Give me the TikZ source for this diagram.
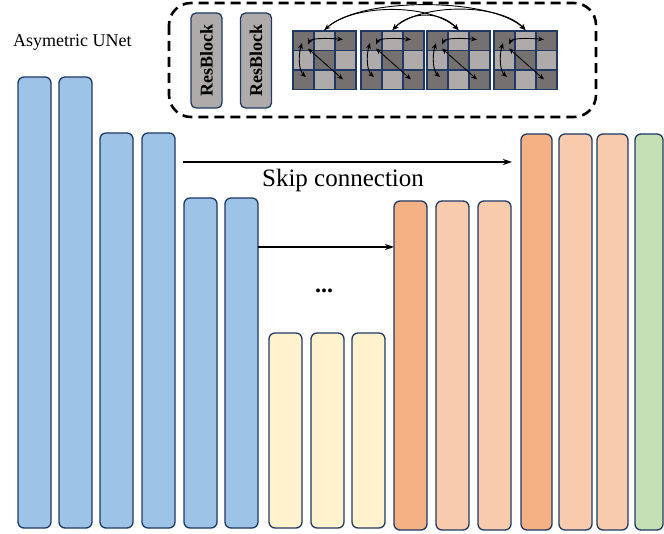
\documentclass[tikz,border=0pt]{standalone}
\usepackage{fontspec}
\setmainfont{Liberation Serif}
\usetikzlibrary{arrows.meta}
\definecolor{navy}{HTML}{1F3864}
\definecolor{cblue}{HTML}{9DC3E6}
\definecolor{cyellow}{HTML}{FFF2CC}
\definecolor{corange}{HTML}{F4B183}
\definecolor{clorange}{HTML}{F8CBAD}
\definecolor{cgreen}{HTML}{C5E0B4}
\definecolor{cgray}{HTML}{AFABAB}
\definecolor{cdark}{HTML}{767171}
\begin{document}
\begin{tikzpicture}[x=1pt,y=-1pt,
  bar/.style={draw=navy, line width=1.3pt, rounded corners=6pt, anchor=south west,
    inner sep=0pt, outer sep=0pt, minimum width=33pt},
  resblock/.style={draw=navy, line width=1.3pt, rounded corners=5pt, fill=cgray,
    inner sep=0pt, minimum width=95pt, minimum height=31pt, rotate=90,
    font=\fontsize{18}{20}\selectfont\bfseries},
  arr/.style={-{Stealth[length=9pt,width=6pt]}, line width=1.1pt},
  tiny/.style={{Stealth[length=6pt,width=5pt]}-{Stealth[length=6pt,width=5pt]}, line width=0.9pt},
  tinyone/.style={-{Stealth[length=6pt,width=5pt]}, line width=0.9pt},
  gridline/.style={draw=navy, line width=1.4pt},
  dashbox/.style={line width=2.6pt, dash pattern=on 10pt off 6pt, rounded corners=22pt}]
\useasboundingbox (0,0) rectangle (664,534);

% encoder
\node[bar, fill=cblue, minimum height=451pt] (b1) at (18,528) {};
\node[bar, fill=cblue, minimum height=451pt] (b2) at (59,528) {};
\node[bar, fill=cblue, minimum height=395pt] (b3) at (100,528) {};
\node[bar, fill=cblue, minimum height=395pt] (b4) at (142,528) {};
\node[bar, fill=cblue, minimum height=330pt] (b5) at (184,528) {};
\node[bar, fill=cblue, minimum height=330pt] (b6) at (225,528) {};
% bottleneck
\node[bar, fill=cyellow, minimum height=195pt] (b7) at (269,528) {};
\node[bar, fill=cyellow, minimum height=195pt] (b8) at (311,528) {};
\node[bar, fill=cyellow, minimum height=195pt] (b9) at (352,528) {};
% decoder
\node[bar, fill=corange, minimum height=329pt] (b10) at (394,530) {};
\node[bar, fill=clorange, minimum height=329pt] (b11) at (436,530) {};
\node[bar, fill=clorange, minimum height=329pt] (b12) at (478,530) {};
\node[bar, fill=corange, minimum height=396pt, minimum width=31pt] (b13) at (521,530) {};
\node[bar, fill=clorange, minimum height=396pt] (b14) at (559,530) {};
\node[bar, fill=clorange, minimum height=396pt, minimum width=31pt] (b15) at (597,530) {};
\node[bar, fill=cgreen, minimum height=396pt, minimum width=28pt] (b16) at (635,530) {};

% skip connections
\coordinate (sky1) at (0,162);
\coordinate (sky2) at (0,247);
\draw[arr, shorten <=8pt, shorten >=9pt] (b4.east |- sky1) -- (b13.west |- sky1);
\draw[arr] (b6.east |- sky2) -- (b10.west |- sky2);
\node[font=\fontsize{25}{28}\selectfont] (skiplabel) at (343,180) {Skip connection};
\node[font=\fontsize{24}{26}\selectfont\bfseries] (dots) at (324,291) {...};

% title
\node[anchor=west, font=\fontsize{18}{20}\selectfont, inner sep=0pt] (title) at (13,42) {Asymetric UNet};

% inset
\draw[dashbox] (169,3) rectangle (596,117);
\node[resblock] (rb1) at (206.5,60.5) {ResBlock};
\node[resblock] (rb2) at (256,60.5) {ResBlock};

\foreach \ox [count=\i] in {293,361,427,494} {
  \foreach \c in {0,1,2} {
    \foreach \r in {0,1,2} {
      \pgfmathtruncatemacro\p{mod(\c+\r,2)}
      \ifnum\p=0
        \fill[cdark] ({\ox+\c*21},{31+\r*19.5}) rectangle ++(21,19.5);
      \else
        \fill[cgray] ({\ox+\c*21},{31+\r*19.5}) rectangle ++(21,19.5);
      \fi
    }
  }
  \draw[gridline] (\ox,31) rectangle ++(63,58.5);
  \draw[gridline] ({\ox+21},31) -- ++(0,58.5);
  \draw[gridline] ({\ox+42},31) -- ++(0,58.5);
  \draw[gridline] (\ox,50.5) -- ++(63,0);
  \draw[gridline] (\ox,70) -- ++(63,0);
  \coordinate (g\i) at ({\ox+31.5},30);
  \draw[tiny] ({\ox+15},{31+13.5}) .. controls ({\ox+18},{31+7}) and ({\ox+35},{31+7}) .. ({\ox+50},{31+8.5});
  \draw[tiny] ({\ox+9},{31+12}) .. controls ({\ox+5},{31+25}) and ({\ox+6},{31+40}) .. ({\ox+13},{31+46});
  \draw[tiny] ({\ox+15},{31+17.5}) -- ({\ox+50},{31+48.5});
}

% attention arcs
\draw[tiny] (g1) .. controls (360,-3) and (490,-3) .. (g4);
\draw[tiny] (g2) .. controls (410,11) and (441,11) .. (g3);
\draw[tinyone] (g1) .. controls (350,3) and (430,3) .. (g3);
\draw[tiny] (g2) .. controls (420,3) and (500,3) .. (g4);
\end{tikzpicture}
\end{document}
